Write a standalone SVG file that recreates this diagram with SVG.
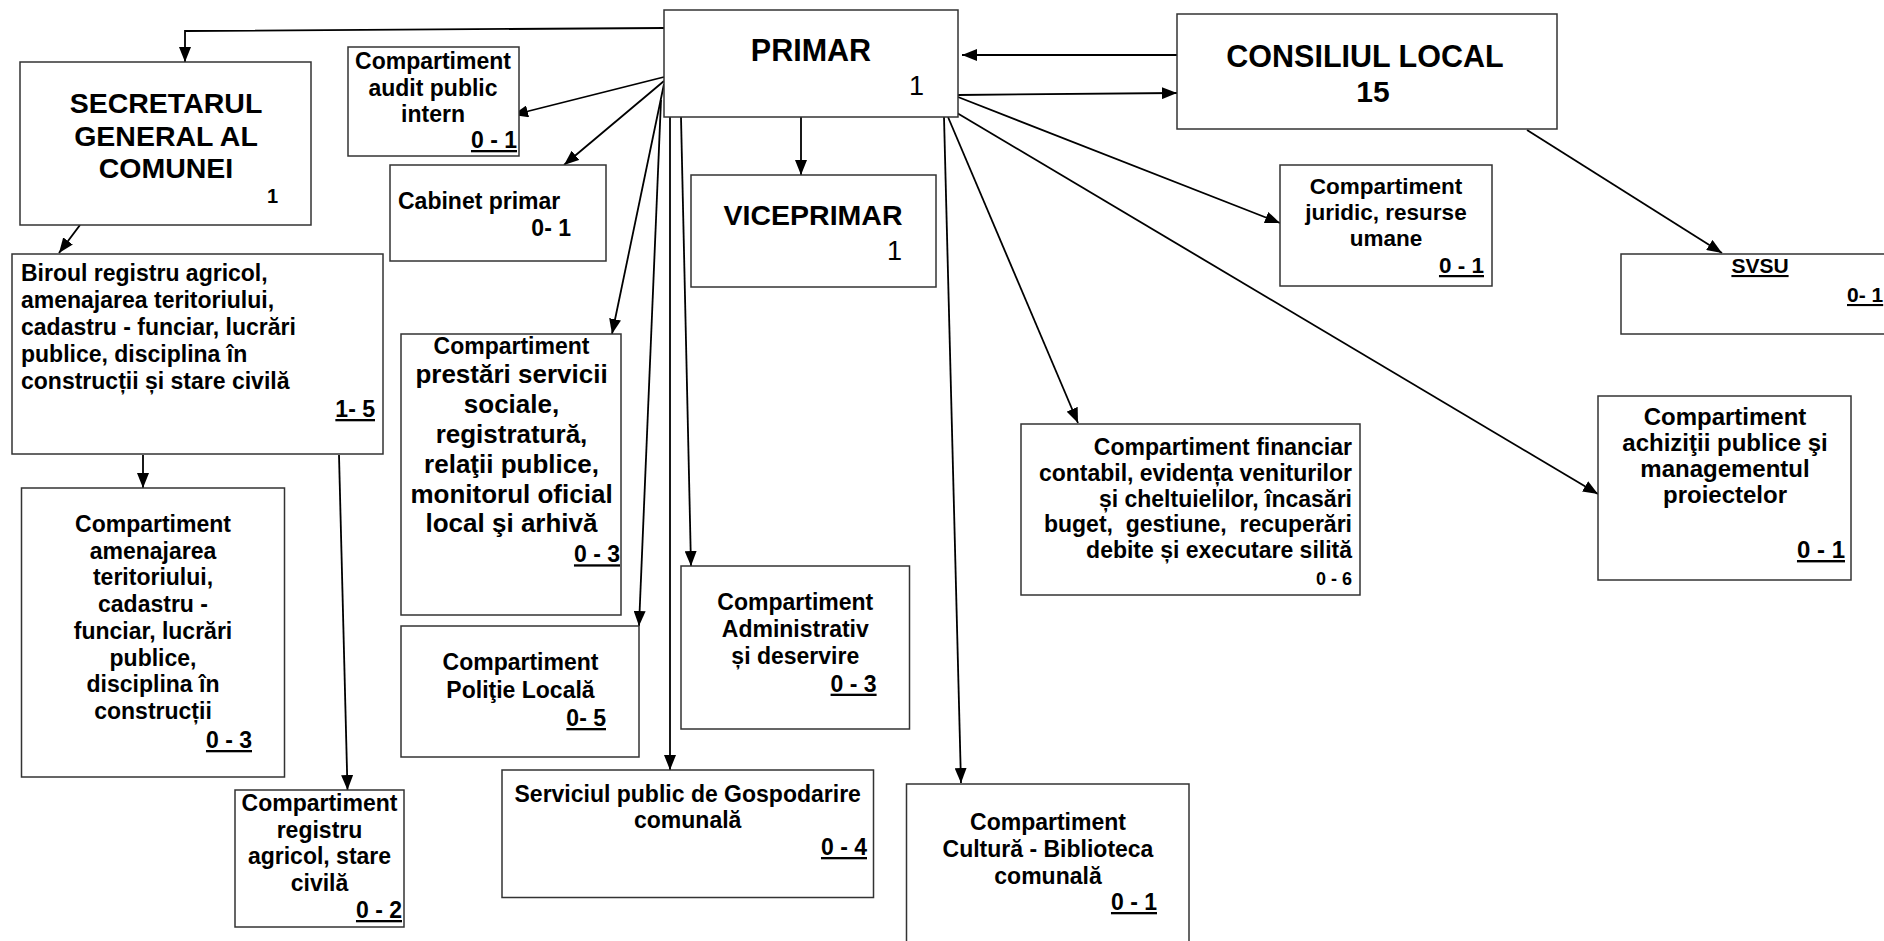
<svg xmlns="http://www.w3.org/2000/svg" width="1884" height="941" viewBox="0 0 1884 941">
<defs>
<marker id="ah" markerWidth="15" markerHeight="12" refX="15" refY="6" orient="auto" markerUnits="userSpaceOnUse"><path d="M0,0 L15,6 L0,12 z" fill="#000"/></marker>
<style>
.box{fill:#fff;stroke:#333;stroke-width:1.5}
.t{font-family:"Liberation Sans",Arial,sans-serif;font-weight:bold;fill:#000}
.n{font-family:"Liberation Sans",Arial,sans-serif;font-weight:normal;fill:#000}
.c{text-anchor:middle}
.e{text-anchor:end}
.s23{font-size:23px}
.s26{font-size:26px}
.u{text-decoration:underline}
.ln{fill:none;stroke:#000;stroke-width:1.8;marker-end:url(#ah)}
</style>
</defs>
<rect width="1884" height="941" fill="#fff"/>

<g id="connectors">
<polyline class="ln" points="664,28 185,31 185,62"/>
<line class="ln" x1="664" y1="77" x2="513" y2="115"/>
<line class="ln" x1="664" y1="81" x2="564" y2="165"/>
<line class="ln" x1="664" y1="84" x2="612" y2="334"/>
<line class="ln" x1="661" y1="100" x2="639" y2="626"/>
<line class="ln" x1="670" y1="117" x2="670" y2="770"/>
<line class="ln" x1="681" y1="117" x2="691" y2="566"/>
<line class="ln" x1="801" y1="117" x2="801" y2="175"/>
<line class="ln" x1="944" y1="117" x2="961" y2="783"/>
<line class="ln" x1="948" y1="117" x2="1078" y2="423"/>
<line class="ln" x1="952" y1="110" x2="1598" y2="494"/>
<line class="ln" x1="958" y1="97" x2="1280" y2="223"/>
<line class="ln" x1="958" y1="95" x2="1177" y2="93"/>
<line class="ln" x1="1177" y1="55" x2="962" y2="55"/>
<line class="ln" x1="1527" y1="130" x2="1722" y2="253"/>
<line class="ln" x1="80" y1="225" x2="59" y2="253"/>
<line class="ln" x1="143" y1="455" x2="143" y2="488"/>
<line class="ln" x1="339" y1="455" x2="347.5" y2="790"/>
</g>

<g id="primar">
<rect class="box" x="664" y="10" width="294" height="107"/>
<text class="t c" x="811" y="61" font-size="30.5">PRIMAR</text>
<text class="n e" x="924" y="95" font-size="27">1</text>
</g>

<g id="consiliul-local">
<rect class="box" x="1177" y="14" width="380" height="115"/>
<text class="t c" x="1365" y="67" font-size="30.5">CONSILIUL LOCAL</text>
<text class="t c" x="1373" y="102" font-size="30">15</text>
</g>

<g id="secretarul">
<rect class="box" x="20" y="62" width="291" height="163"/>
<text class="t c" x="166" y="113" font-size="28.5">SECRETARUL</text>
<text class="t c" x="166" y="145.5" font-size="28.5">GENERAL AL</text>
<text class="t c" x="166" y="178" font-size="28.5">COMUNEI</text>
<text class="t" x="267" y="203" font-size="20">1</text>
</g>

<g id="audit">
<rect class="box" x="348" y="47" width="171" height="109"/>
<text class="t c s23" x="433" y="69">Compartiment</text>
<text class="t c s23" x="433" y="95.5">audit public</text>
<text class="t c s23" x="433" y="122">intern</text>
<text class="t e s23 u" x="517" y="148">0 - 1</text>
</g>

<g id="cabinet">
<rect class="box" x="390" y="165" width="216" height="96"/>
<text class="t s23" x="398" y="209">Cabinet primar</text>
<text class="t e s23" x="571" y="236">0- 1</text>
</g>

<g id="viceprimar">
<rect class="box" x="691" y="175" width="245" height="112"/>
<text class="t c" x="813" y="225" font-size="28.5">VICEPRIMAR</text>
<text class="n e" x="902" y="260" font-size="27">1</text>
</g>

<g id="biroul">
<rect class="box" x="12" y="254" width="371" height="200"/>
<text class="t s23" x="21" y="281">Biroul registru agricol,</text>
<text class="t s23" x="21" y="308">amenajarea teritoriului,</text>
<text class="t s23" x="21" y="335">cadastru - funciar, lucrări</text>
<text class="t s23" x="21" y="362">publice, disciplina în</text>
<text class="t s23" x="21" y="389">construcții și stare civilă</text>
<text class="t e s23 u" x="375" y="417">1- 5</text>
</g>

<g id="amenajarea">
<rect class="box" x="21.5" y="488" width="263" height="289"/>
<text class="t c s23" x="153" y="532">Compartiment</text>
<text class="t c s23" x="153" y="558.7">amenajarea</text>
<text class="t c s23" x="153" y="585.4">teritoriului,</text>
<text class="t c s23" x="153" y="612.1">cadastru -</text>
<text class="t c s23" x="153" y="638.8">funciar, lucrări</text>
<text class="t c s23" x="153" y="665.5">publice,</text>
<text class="t c s23" x="153" y="692.2">disciplina în</text>
<text class="t c s23" x="153" y="718.9">construcții</text>
<text class="t e s23 u" x="252" y="748">0 - 3</text>
</g>

<g id="registru">
<rect class="box" x="235" y="790" width="169" height="137"/>
<text class="t c s23" x="319.5" y="811">Compartiment</text>
<text class="t c s23" x="319.5" y="837.5">registru</text>
<text class="t c s23" x="319.5" y="864.3">agricol, stare</text>
<text class="t c s23" x="319.5" y="891">civilă</text>
<text class="t e s23 u" x="402" y="918">0 - 2</text>
</g>

<g id="prestari">
<rect class="box" x="401" y="334" width="220" height="281"/>
<text class="t c s23" x="511.5" y="354.3">Compartiment</text>
<text class="t c s26" x="511.5" y="383.3">prestări servicii</text>
<text class="t c s26" x="511.5" y="412.7">sociale,</text>
<text class="t c s26" x="511.5" y="443.3">registratură,</text>
<text class="t c s26" x="511.5" y="473.3">relaţii publice,</text>
<text class="t c s26" x="511.5" y="503.3">monitorul oficial</text>
<text class="t c s26" x="511.5" y="532.3">local şi arhivă</text>
<text class="t e s23 u" x="620" y="562.3">0 - 3</text>
</g>

<g id="politie">
<rect class="box" x="401" y="626" width="238" height="131"/>
<text class="t c s23" x="520.5" y="670">Compartiment</text>
<text class="t c s23" x="520.5" y="697.7">Poliţie Locală</text>
<text class="t e s23 u" x="606" y="726">0- 5</text>
</g>

<g id="administrativ">
<rect class="box" x="681" y="566" width="228.5" height="163"/>
<text class="t c s23" x="795.3" y="610">Compartiment</text>
<text class="t c s23" x="795.3" y="636.7">Administrativ</text>
<text class="t c s23" x="795.3" y="664.3">și deservire</text>
<text class="t e s23 u" x="876.6" y="691.7">0 - 3</text>
</g>

<g id="serviciul">
<rect class="box" x="502" y="770" width="371.5" height="127.5"/>
<text class="t c s23" x="687.7" y="801.7">Serviciul public de Gospodarire</text>
<text class="t c s23" x="687.7" y="828.3">comunală</text>
<text class="t e s23 u" x="867" y="855">0 - 4</text>
</g>

<g id="cultura">
<rect class="box" x="906.5" y="784" width="282.5" height="170"/>
<text class="t c s23" x="1048" y="830">Compartiment</text>
<text class="t c s23" x="1048" y="857">Cultură - Biblioteca</text>
<text class="t c s23" x="1048" y="883.5">comunală</text>
<text class="t e s23 u" x="1157" y="910">0 - 1</text>
</g>

<g id="financiar">
<rect class="box" x="1021" y="424" width="339" height="171"/>
<text class="t e s23" x="1352" y="455">Compartiment financiar</text>
<text class="t e s23" x="1352" y="481">contabil, evidența veniturilor</text>
<text class="t e s23" x="1352" y="506.5">și cheltuielilor, încasări</text>
<text class="t e s23" x="1352" y="532" style="white-space:pre">buget,  gestiune,  recuperări</text>
<text class="t e s23" x="1352" y="557.5">debite și executare silită</text>
<text class="t e" x="1352" y="585" font-size="18">0 - 6</text>
</g>

<g id="juridic">
<rect class="box" x="1280" y="165" width="212" height="121"/>
<text class="t c" x="1386" y="194" font-size="22.5">Compartiment</text>
<text class="t c" x="1386" y="220" font-size="22.5">juridic, resurse</text>
<text class="t c" x="1386" y="246" font-size="22.5">umane</text>
<text class="t e u" x="1484" y="273" font-size="22.5">0 - 1</text>
</g>

<g id="svsu">
<rect class="box" x="1621" y="254" width="280" height="80"/>
<text class="t c u" x="1760" y="273" font-size="21">SVSU</text>
<text class="t u" x="1847" y="302" font-size="21">0- 1</text>
</g>

<g id="achizitii">
<rect class="box" x="1598" y="396" width="253" height="184"/>
<text class="t c" x="1725" y="425" font-size="24">Compartiment</text>
<text class="t c" x="1725" y="451" font-size="24">achiziţii publice şi</text>
<text class="t c" x="1725" y="477" font-size="24">managementul</text>
<text class="t c" x="1725" y="503" font-size="24">proiectelor</text>
<text class="t e u" x="1845" y="558" font-size="24">0 - 1</text>
</g>
</svg>
